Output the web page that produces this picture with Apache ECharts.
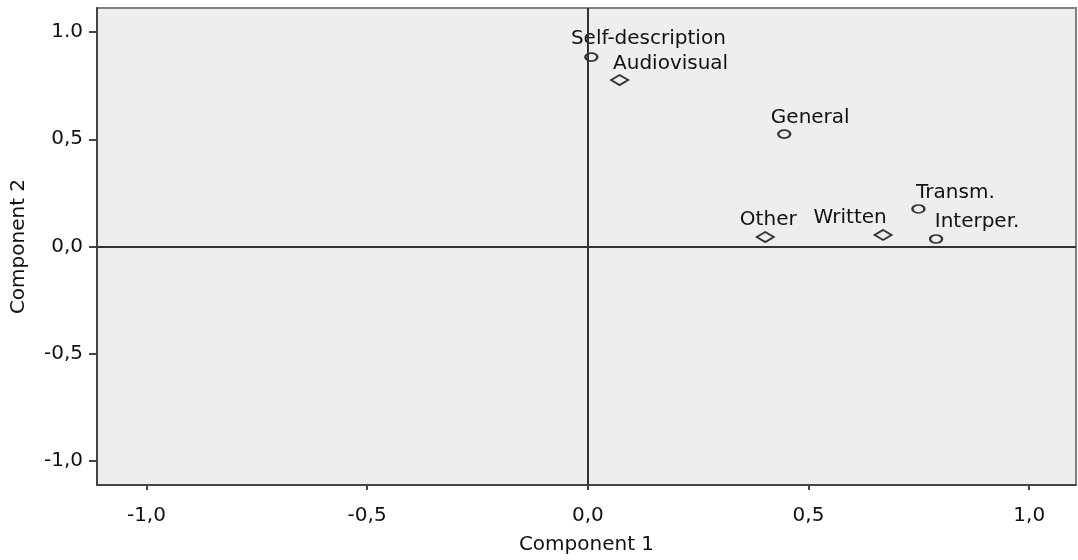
<!DOCTYPE html>
<html>
<head>
<meta charset="utf-8">
<script src="https://cdn.jsdelivr.net/npm/echarts@6/dist/echarts.min.js"></script>
<style>
html,body{margin:0;padding:0;background:#fff;}
#chart{width:1078px;height:560px;}
</style>
</head>
<body>
<div id="chart"></div>
<script>
// ---- data ----
const circleNames = ['Self-description', 'General', 'Transm.', 'Interper.'];
const circleX = [0.008, 0.445, 0.749, 0.789];
const circleY = [0.883, 0.524, 0.175, 0.035];

const diamondNames = ['Audiovisual', 'Other', 'Written'];
const diamondX = [0.072, 0.402, 0.669];
const diamondY = [0.776, 0.044, 0.054];

const tickValues = [-1, -0.5, 0, 0.5, 1];
const xTickLabels = ['-1,0', '-0,5', '0,0', '0,5', '1,0'];
const yTickLabels = ['-1,0', '-0,5', '0,0', '0,5', '1.0'];

// ---- label layout (pixel offsets, not data) ----
const circleLabelOffsets = [[57, 0], [26, 3], [37, 3], [41, 2]];
const diamondLabelOffsets = [[51, 3], [3, 3], [-33, 3]];

const FONT = 'DejaVu Sans';
const FS = 20;
const TXT = '#111111';

function build(names, xs, ys, offs) {
  return names.map((n, i) => ({
    name: n,
    value: [xs[i], ys[i]],
    label: { offset: offs[i] }
  }));
}
function fmt(labels) {
  return function (v) {
    const k = tickValues.findIndex(t => Math.abs(t - v) < 1e-6);
    return k >= 0 ? labels[k] : '';
  };
}

const labelStyle = {
  show: true,
  position: 'top',
  distance: 4,
  align: 'center',
  formatter: '{b}',
  color: TXT,
  opacity: 1,
  fontFamily: FONT,
  fontSize: FS
};

const chart = echarts.init(document.getElementById('chart'), null, { renderer: 'canvas' });
chart.setOption({
  animation: false,
  backgroundColor: '#ffffff',
  textStyle: { fontFamily: FONT },
  grid: {
    left: 97, right: 2, top: 8, bottom: 75,
    show: true,
    backgroundColor: '#efeeec',
    borderColor: '#808080',
    borderWidth: 2
  },
  xAxis: {
    type: 'value',
    min: -1.112, max: 1.106,
    name: 'Component 1',
    nameLocation: 'middle',
    nameGap: 50,
    nameTextStyle: { fontFamily: FONT, fontSize: FS, color: TXT },
    axisLine: { show: true, onZero: false, lineStyle: { color: '#444', width: 2 } },
    axisTick: { show: true, length: 5, customValues: tickValues, lineStyle: { color: '#444', width: 2 } },
    axisLabel: { customValues: tickValues, formatter: fmt(xTickLabels), margin: 21, color: TXT, fontFamily: FONT, fontSize: FS },
    splitLine: { show: false }
  },
  yAxis: {
    type: 'value',
    min: -1.112, max: 1.112,
    name: 'Component 2',
    nameLocation: 'middle',
    nameGap: 68,
    nameTextStyle: { fontFamily: FONT, fontSize: FS, color: TXT },
    axisLine: { show: true, onZero: false, lineStyle: { color: '#444', width: 2 } },
    axisTick: { show: true, length: 8, customValues: tickValues, lineStyle: { color: '#444', width: 2 } },
    axisLabel: { customValues: tickValues, formatter: fmt(yTickLabels), margin: 14, color: TXT, fontFamily: FONT, fontSize: FS },
    splitLine: { show: false }
  },
  series: [
    {
      type: 'scatter',
      symbol: 'circle',
      symbolSize: [12, 8],
      itemStyle: { color: 'rgba(0,0,0,0)', borderColor: '#333', borderWidth: 2, opacity: 1 },
      label: labelStyle,
      data: build(circleNames, circleX, circleY, circleLabelOffsets),
      markLine: {
        silent: true,
        symbol: 'none',
        label: { show: false },
        lineStyle: { color: '#333', width: 2, type: 'solid', opacity: 1 },
        data: [{ xAxis: 0 }, { yAxis: 0 }]
      },
      z: 3
    },
    {
      type: 'scatter',
      symbol: 'diamond',
      symbolSize: [17, 10],
      itemStyle: { color: 'rgba(0,0,0,0)', borderColor: '#333', borderWidth: 2, opacity: 1 },
      label: labelStyle,
      data: build(diamondNames, diamondX, diamondY, diamondLabelOffsets),
      z: 3
    }
  ]
});
</script>
</body>
</html>
